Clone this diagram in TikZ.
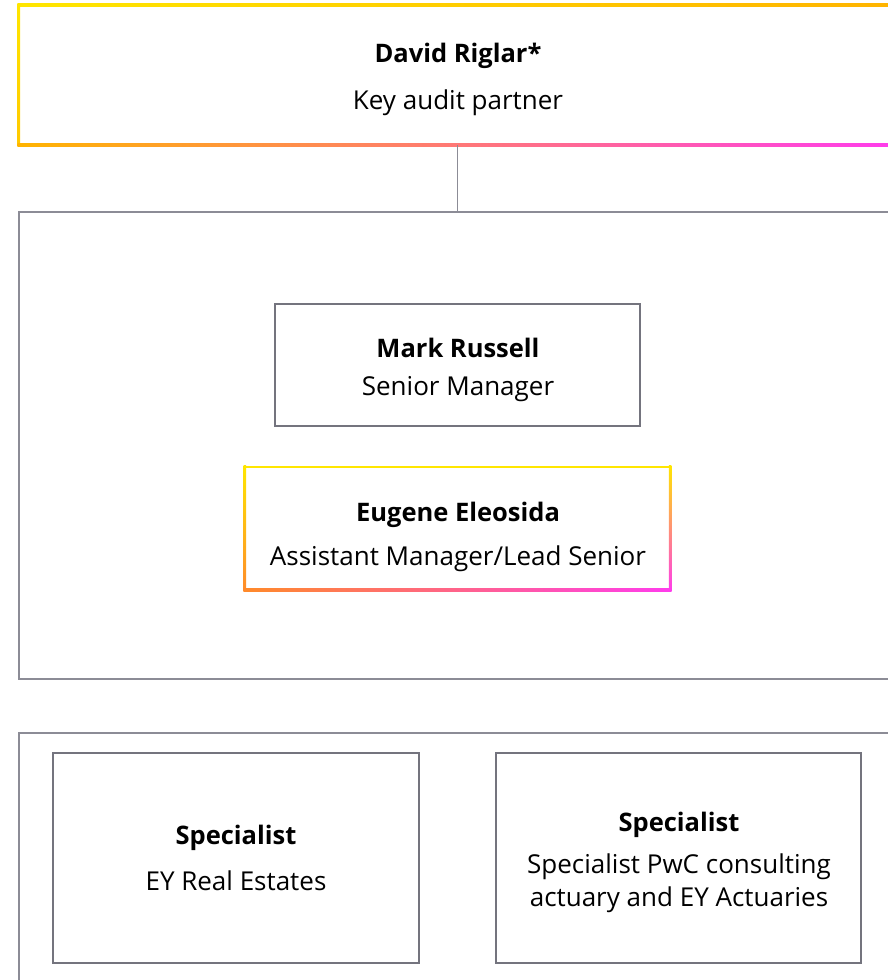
\documentclass[tikz,border=0pt]{standalone}
\usepackage{fontspec}
\setmainfont{Open Sans}
\definecolor{eyyellow}{HTML}{FFE600}
\definecolor{eyamber}{HTML}{FFB400}
\definecolor{eyorange}{HTML}{FF8A2A}
\definecolor{eyred}{HTML}{FF7A38}
\definecolor{eypink}{HTML}{FF6E6A}
\definecolor{eymag}{HTML}{FF3CEC}
\definecolor{framegray}{HTML}{8C8C96}
\definecolor{boxgray}{HTML}{74747E}
\begin{document}
\begin{tikzpicture}[x=1pt,y=-1pt,
  area/.style={draw=none,fill=none,inner sep=0pt},
  outerbox/.style={draw=framegray,line width=1.3pt,inner sep=0pt},
  innerbox/.style={draw=boxgray,line width=1.6pt,inner sep=0pt},
  namelbl/.style={font=\fontsize{25.5}{28}\selectfont\bfseries,inner sep=0pt,text=black},
  rolelbl/.style={font=\fontsize{26}{33}\selectfont,inner sep=0pt,align=center,text=black},
  link/.style={draw=framegray,line width=1.5pt}]
\useasboundingbox (0,0) rectangle (888,980);

% frames
\node[outerbox,minimum width=871pt,minimum height=467pt] (mid) at (454.5,445.5) {};
\node[outerbox,minimum width=871pt,minimum height=267pt] (bot) at (454.5,866.5) {};
\node[area,minimum width=871pt,minimum height=140pt] (top) at (454.5,75) {};

% inner boxes
\node[innerbox,minimum width=365pt,minimum height=122pt] (mark) at (457.5,365) {};
\node[area,minimum width=425pt,minimum height=123pt] (eug) at (457.5,528.5) {};
\node[innerbox,minimum width=366pt,minimum height=210pt] (spa) at (236,858) {};
\node[innerbox,minimum width=365pt,minimum height=210pt] (spb) at (678.5,858) {};

% gradient border: top box
\shade[left color=eyyellow,right color=eyamber] ([xshift=-1.25pt,yshift=1.25pt]top.north west) rectangle ([xshift=1.25pt,yshift=-1.25pt]top.north east);
\shade[top color=eyyellow,bottom color=eyamber!60!eyyellow] ([xshift=-1.25pt,yshift=1.25pt]top.north west) rectangle ([xshift=1.25pt,yshift=-1.25pt]top.south west);
\shade[left color=eyamber,middle color=eyred,right color=eymag] ([xshift=-1.25pt,yshift=1.25pt]top.south west) rectangle ([xshift=1.25pt,yshift=-1.25pt]top.south east);

% gradient border: Eugene box
\fill[eyyellow] ([xshift=-1.25pt,yshift=1.25pt]eug.north west) rectangle ([xshift=1.25pt,yshift=-1.25pt]eug.north east);
\shade[top color=eyyellow,bottom color=eyorange] ([xshift=-1.25pt,yshift=1.25pt]eug.north west) rectangle ([xshift=1.25pt,yshift=-1.25pt]eug.south west);
\shade[top color=eyyellow,middle color=eyorange!70!eypink,bottom color=eymag] ([xshift=-1.25pt,yshift=1.25pt]eug.north east) rectangle ([xshift=1.25pt,yshift=-1.25pt]eug.south east);
\shade[left color=eyorange,middle color=eypink,right color=eymag] ([xshift=-1.25pt,yshift=1.25pt]eug.south west) rectangle ([xshift=1.25pt,yshift=-1.25pt]eug.south east);

% connector
\draw[link] (mark.north |- top.south) -- (mark.north |- mid.north);

% texts
\node[namelbl] (t1) at (458,56) {David Riglar*};
\node[rolelbl] (t2) at (458,102.5) {Key audit partner};
\node[namelbl] (m1) at (458,348) {Mark Russell};
\node[rolelbl] (m2) at (458,389.5) {Senior Manager};
\node[namelbl] (e1) at (458,515) {Eugene Eleosida};
\node[rolelbl] (e2) at (458,558.5) {Assistant Manager/Lead Senior};
\node[namelbl] (a1) at (236,838) {Specialist};
\node[rolelbl] (a2) at (236,880.5) {EY Real Estates};
\node[namelbl] (b1) at (679,825) {Specialist};
\node[rolelbl] (b2) at (679,883) {Specialist PwC consulting\\actuary and EY Actuaries};
\end{tikzpicture}
\end{document}
